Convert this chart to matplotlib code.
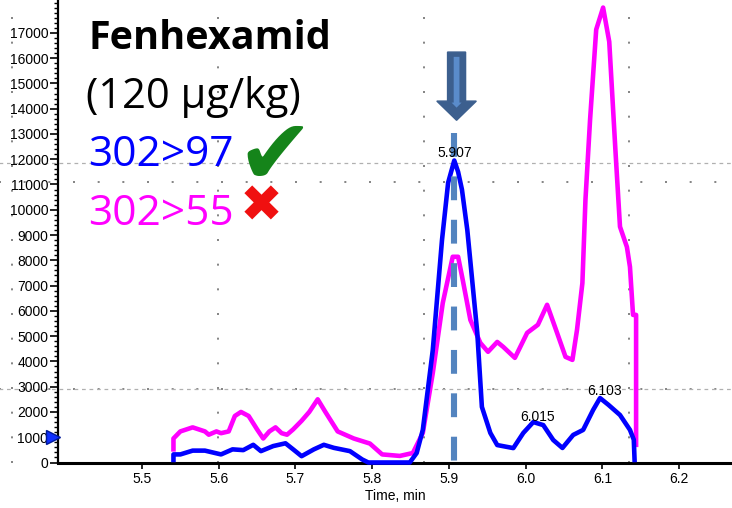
import matplotlib.pyplot as plt
from matplotlib.patches import FancyArrow
from matplotlib.ticker import MultipleLocator
import matplotlib.transforms as mtransforms

# XIC traces: time (min) and intensity (cps)
t_97 = [5.541, 5.541, 5.550, 5.566, 5.582, 5.603, 5.618, 5.632, 5.645, 5.655,
        5.671, 5.687, 5.697, 5.708, 5.724, 5.737, 5.750, 5.771, 5.787, 5.795,
        5.849, 5.858, 5.866, 5.879, 5.891, 5.899, 5.907, 5.912, 5.917, 5.924,
        5.937, 5.943, 5.954, 5.963, 5.984, 5.997, 6.010, 6.023, 6.036, 6.048,
        6.062, 6.075, 6.088, 6.097, 6.108, 6.123, 6.136, 6.141, 6.142]
i_97 = [100, 320, 320, 470, 470, 320, 520, 490, 700, 450,
        650, 760, 520, 250, 520, 700, 580, 450, 120, 0,
        0, 375, 1290, 4450, 8800, 11070, 11950, 11500, 10800, 9200,
        5130, 2200, 1170, 690, 570, 1170, 1600, 1480, 890, 575,
        1090, 1290, 2080, 2550, 2280, 1880, 1290, 900, 100]

t_55 = [5.541, 5.541, 5.550, 5.566, 5.582, 5.587, 5.597, 5.603, 5.613, 5.621,
        5.629, 5.639, 5.650, 5.658, 5.666, 5.674, 5.682, 5.689, 5.697, 5.708,
        5.718, 5.729, 5.739, 5.755, 5.776, 5.797, 5.813, 5.836, 5.853, 5.866,
        5.879, 5.892, 5.905, 5.912, 5.918, 5.928, 5.941, 5.951, 5.963, 5.971,
        5.986, 6.002, 6.016, 6.028, 6.041, 6.052, 6.061, 6.067, 6.074, 6.078,
        6.084, 6.092, 6.101, 6.109, 6.117, 6.123, 6.132, 6.136, 6.140, 6.144,
        6.144]
i_55 = [520, 950, 1230, 1390, 1230, 1100, 1230, 1160, 1230, 1840,
        2000, 1840, 1310, 950, 1230, 1390, 1160, 1100, 1310, 1650,
        2000, 2500, 2000, 1230, 950, 750, 320, 260, 375, 1170,
        3540, 6310, 8140, 8140, 7230, 5640, 4730, 4380, 4770, 4570,
        4140, 5130, 5450, 6240, 5130, 4180, 4060, 5250, 7100, 10400,
        13560, 17130, 18000, 16650, 12380, 9330, 8530, 7740, 5840, 5840,
        700]

peak_t = [5.907, 6.015, 6.103]
peak_txt = ['5.907', '6.015', '6.103']
peak_txt_y = [12250, 1800, 2830]

x_ticks = [5.5, 5.6, 5.7, 5.8, 5.9, 6.0, 6.1, 6.2]
y_ticks = list(range(0, 18000, 1000))

axfont = 'Liberation Sans'
bigfont = 'Open Sans'

fig = plt.figure(figsize=(7.32, 5.08), dpi=100)
ax = fig.add_axes([58 / 732, 1 - 462.5 / 508, 1 - 58 / 732, 462.5 / 508])
ax.set_xlim(5.3905, 6.269)
ax.set_ylim(0, 18300)

# sparse instrument grid (dots on a coarse lattice)
for gx in [5.3305, 5.5987, 5.8669, 6.1351]:
    ax.axvline(gx, color='#707070', lw=1.2, ls=(0, (1.2, 13.6)), clip_on=False, zorder=0)
for gy in [2899, 11080]:
    ax.axhline(gy, xmin=-0.09, color='#707070', lw=1.2, ls=(0, (1.2, 13.6)), clip_on=False, zorder=0)
# threshold lines
for gy in [11870, 2899]:
    ax.axhline(gy, xmin=-0.09, color='#b0b0b0', lw=0.9, ls=(0, (3, 3)), clip_on=False, zorder=0)

ax.plot(t_55, i_55, color='#ff00ff', lw=3.3, solid_joinstyle='round', clip_on=False, zorder=3)
ax.plot(t_97, i_97, color='#0000ff', lw=3.3, solid_joinstyle='round', clip_on=False, zorder=4)

# retention time marker
ax.plot([peak_t[0], peak_t[0]], [13050, 0], color='#5384bf', lw=4.4,
        ls=(0, (3.9, 3.2)), zorder=5)
ax.add_patch(FancyArrow(5.910, 16240, 0, -2700, width=0.0235, head_width=0.0515,
                        head_length=760, length_includes_head=True,
                        facecolor='#3c5f8e', edgecolor='#3c5f8e', lw=1, zorder=6))
ax.add_patch(FancyArrow(5.910, 16050, 0, -2010, width=0.0075, head_width=0.013,
                        head_length=200, length_includes_head=True,
                        facecolor='#5a8ccb', edgecolor='none', zorder=7))

for t, s, y in zip(peak_t, peak_txt, peak_txt_y):
    ax.text(t, y, s, ha='center', va='center', fontsize=10, family=axfont, zorder=8)

# small arrow on the y axis
trans = mtransforms.blended_transform_factory(ax.transAxes, ax.transData)
ax.plot([-0.007], [990], marker='>', ms=10, color='#1030ff', mec='#001a99', mew=1,
        transform=trans, clip_on=False, zorder=9)

ax.spines['top'].set_visible(False)
ax.spines['right'].set_visible(False)
ax.spines['left'].set_linewidth(1.6)
ax.spines['bottom'].set_linewidth(2.2)
ax.set_xticks(x_ticks)
ax.set_xticklabels([f'{v:.1f}' for v in x_ticks], fontsize=10, family=axfont)
ax.set_yticks(y_ticks)
ax.set_yticklabels([str(v) for v in y_ticks], fontsize=10, family=axfont)
ax.yaxis.set_minor_locator(MultipleLocator(200))
ax.tick_params(axis='y', which='major', length=6, width=1.2, pad=1)
ax.tick_params(axis='y', which='minor', length=3, width=1)
ax.tick_params(axis='x', length=4, width=1.2, pad=3)
ax.set_xlabel('Time, min', fontsize=10, family=axfont, labelpad=2)


def fx(px):
    return px / 732


def fy(py):
    return 1 - py / 508


fig.text(fx(89), fy(49), 'Fenhexamid', fontsize=28.5, fontweight='bold', family=bigfont)
fig.text(fx(86), fy(108), '(120 µg/kg)', fontsize=30, family=bigfont)
fig.text(fx(88), fy(166), '302>97', fontsize=30.5, color='#0000ff', family=bigfont)
fig.text(fx(88), fy(225), '302>55', fontsize=30.5, color='#ff00ff', family=bigfont)
fig.text(fx(236), fy(184), '\u2714', fontsize=66, color='#15841a', family='DejaVu Sans')
fig.text(fx(240), fy(222), '\u2716', fontsize=37, color='#f01010', family='DejaVu Sans')

fig.savefig('out.png', dpi=100)
